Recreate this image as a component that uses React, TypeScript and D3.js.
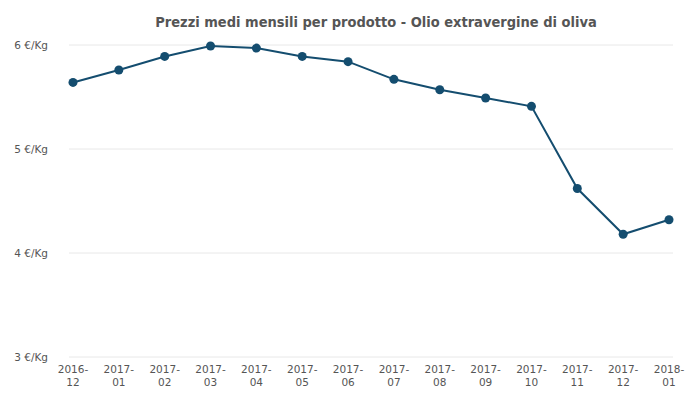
import React from "react";
import * as d3 from "d3";

const months = ["2016-12","2017-01","2017-02","2017-03","2017-04","2017-05","2017-06","2017-07","2017-08","2017-09","2017-10","2017-11","2017-12","2018-01"];
const prices = [5.64,5.76,5.89,5.99,5.97,5.89,5.84,5.67,5.57,5.49,5.41,4.62,4.18,4.32];
const yTicks = [3,4,5,6];
const title = "Prezzi medi mensili per prodotto - Olio extravergine di oliva";

export default function App() {
  const W = 698, H = 400;
  const x = d3.scalePoint<string>().domain(months).range([73, 669]);
  const y = d3.scaleLinear().domain([3, 6]).range([357, 45]);
  const line = d3.line<number>().x((_, i) => x(months[i])!).y(d => y(d));
  const color = "#144d6f";
  return (
    <svg width={W} height={H} style={{ position: "absolute", left: 0, top: 0 }} fontFamily="DejaVu Sans">
      <rect width={W} height={H} fill="#fff" />
      <text x={376} y={27} textAnchor="middle" fontFamily="DejaVu Sans Condensed" fontWeight="bold" fontSize={14.5} fill="#555">{title}</text>
      {yTicks.map(t => (
        <g key={t}>
          <line x1={69} x2={673} y1={y(t)} y2={y(t)} stroke="#e8e8e8" strokeWidth={1} />
          <text x={48} y={y(t) + 4} textAnchor="end" fontSize={10.5} fill="#555">{`${t} €/Kg`}</text>
        </g>
      ))}
      {months.map(m => {
        const [a, b] = m.split("-");
        return (
          <text key={m} x={x(m)} textAnchor="middle" fontSize={10.5} fill="#555">
            <tspan x={x(m)} y={373}>{a}-</tspan>
            <tspan x={x(m)} y={386}>{b}</tspan>
          </text>
        );
      })}
      <path d={line(prices)!} fill="none" stroke={color} strokeWidth={2} />
      {prices.map((v, i) => (
        <circle key={i} cx={x(months[i])} cy={y(v)} r={4.5} fill={color} />
      ))}
    </svg>
  );
}
